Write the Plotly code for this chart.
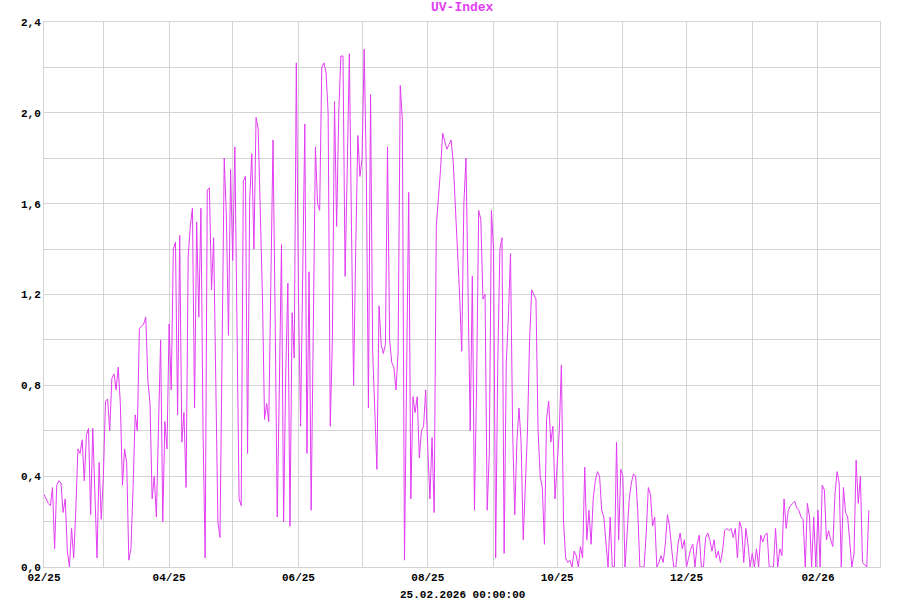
import plotly.graph_objects as go
import pandas as pd

start_date = "2025-02-01"
uv_index = [
    0.32,0.30,0.28,0.27,0.35,0.08,0.36,0.38,0.37,0.24,0.30,0.07,0.00,0.17,0.04,0.25,0.52,0.50,0.56,0.38,0.58,0.61,0.23,0.61,0.30,0.04,0.46,0.21,0.40,0.73,
    0.74,0.60,0.83,0.85,0.78,0.88,0.72,0.36,0.52,0.46,0.03,0.08,0.35,0.67,0.60,1.05,1.06,1.07,1.10,0.82,0.72,0.30,0.40,0.22,0.62,1.00,0.20,0.64,0.52,1.07,
    0.78,1.40,1.43,0.67,1.46,0.55,0.68,0.35,1.37,1.50,1.58,0.70,1.52,1.10,1.58,0.60,0.04,1.66,1.67,1.22,1.45,0.84,0.20,0.13,1.00,1.80,1.55,1.02,1.75,1.35,
    1.85,1.15,0.30,0.27,1.70,1.72,0.50,1.62,1.82,1.40,1.98,1.93,1.60,1.20,0.65,0.72,0.64,1.30,1.88,1.10,0.22,0.80,1.42,0.20,0.85,1.25,0.18,1.12,0.92,2.22,
    1.20,0.62,1.30,1.95,0.50,1.30,0.25,1.10,1.85,1.60,1.57,2.20,2.22,2.18,2.00,0.62,1.00,2.05,1.50,2.00,2.25,2.25,1.28,1.75,2.26,1.50,0.80,1.40,1.90,1.72,
    1.80,2.28,1.75,0.70,2.08,0.95,0.65,0.43,1.15,0.98,0.94,0.98,1.85,1.00,0.90,0.88,0.78,0.95,2.12,1.97,0.03,0.80,1.65,0.30,0.75,0.68,0.75,0.48,0.60,0.62,
    0.78,0.52,0.30,0.57,0.24,1.50,1.62,1.75,1.91,1.88,1.84,1.86,1.88,1.78,1.60,1.40,1.20,0.95,1.60,1.80,1.20,0.60,1.28,0.25,0.80,1.57,1.53,1.18,1.20,0.25,
    0.50,1.57,1.40,0.04,0.90,1.40,1.45,0.06,0.90,1.10,1.38,0.60,0.23,0.55,0.70,0.55,0.12,0.40,0.60,1.00,1.22,1.20,1.18,0.60,0.40,0.35,0.10,0.65,0.73,0.55,
    0.62,0.30,0.45,0.60,0.89,0.20,0.04,0.02,0.03,0.00,0.07,0.05,0.00,0.09,0.04,0.44,0.12,0.25,0.10,0.30,0.38,0.42,0.40,0.25,0.22,0.10,0.00,0.22,0.00,0.00,
    0.55,0.12,0.43,0.40,0.00,0.15,0.30,0.37,0.41,0.40,0.25,0.00,0.00,0.00,0.15,0.35,0.32,0.18,0.22,0.00,0.02,0.05,0.02,0.10,0.23,0.18,0.08,0.00,0.00,0.10,
    0.15,0.08,0.12,0.00,0.04,0.08,0.10,0.00,0.10,0.14,0.00,0.00,0.13,0.15,0.12,0.07,0.12,0.04,0.07,0.02,0.07,0.16,0.17,0.16,0.17,0.13,0.17,0.04,0.20,0.17,
    0.02,0.17,0.10,0.00,0.06,0.00,0.08,0.00,0.14,0.11,0.14,0.15,0.00,0.00,0.00,0.17,0.00,0.08,0.05,0.30,0.17,0.25,0.27,0.28,0.29,0.26,0.25,0.22,0.21,0.00,
    0.28,0.22,0.00,0.22,0.00,0.25,0.00,0.36,0.34,0.12,0.16,0.12,0.09,0.32,0.42,0.37,0.00,0.35,0.24,0.22,0.10,0.00,0.06,0.47,0.28,0.40,0.02,0.01,0.00,0.25,
]
dates = pd.date_range(start_date, periods=len(uv_index), freq="D")

y_ticks = [0.0, 0.2, 0.4, 0.6, 0.8, 1.0, 1.2, 1.4, 1.6, 1.8, 2.0, 2.2, 2.4]
y_labels = ["0,0", "", "0,4", "", "0,8", "", "1,2", "", "1,6", "", "2,0", "", "2,4"]
x_ticks = pd.date_range("2025-02-01", "2026-02-01", freq="MS")
x_labels = ["02/25", "", "04/25", "", "06/25", "", "08/25", "", "10/25", "", "12/25", "", "02/26"]

line_color = "#e23cf2"
grid_color = "#d4d4d4"
mono = "Liberation Mono"

fig = go.Figure(go.Scatter(x=dates, y=uv_index, mode="lines",
                           line=dict(color=line_color, width=1), hoverinfo="x+y"))

fig.update_layout(
    width=900, height=600,
    margin=dict(l=44, r=20, t=22, b=33, autoexpand=False),
    paper_bgcolor="white", plot_bgcolor="white",
    showlegend=False,
    font=dict(family=mono, size=11, color="black"),
)
fig.update_xaxes(
    range=["2025-02-01", "2026-03-02 06:00"],
    tickvals=list(x_ticks), ticktext=x_labels,
    showgrid=True, gridcolor=grid_color, gridwidth=1,
    showline=True, linecolor=grid_color, mirror=True,
    ticks="", zeroline=False, automargin=False,
    tickfont=dict(family=mono, size=11, color="black", weight="bold"),
)
fig.update_yaxes(
    range=[0, 2.4],
    tickvals=y_ticks, ticktext=y_labels,
    showgrid=True, gridcolor=grid_color, gridwidth=1,
    showline=True, linecolor=grid_color, mirror=True,
    ticks="", zeroline=False, automargin=False,
    tickfont=dict(family=mono, size=11, color="black", weight="bold"),
)
fig.add_annotation(text="UV-Index", xref="paper", yref="paper",
                   x=0.5, y=1.0275, yanchor="middle", showarrow=False,
                   font=dict(family=mono, size=13, color=line_color, weight="bold"))
fig.add_annotation(text="25.02.2026 00:00:00", xref="paper", yref="paper",
                   x=0.5, y=-0.0505, yanchor="middle", showarrow=False,
                   font=dict(family=mono, size=11, color="black", weight="bold"))

fig.write_html("out.html", config={"displayModeBar": False},
               post_script="document.body.style.margin='0';")
